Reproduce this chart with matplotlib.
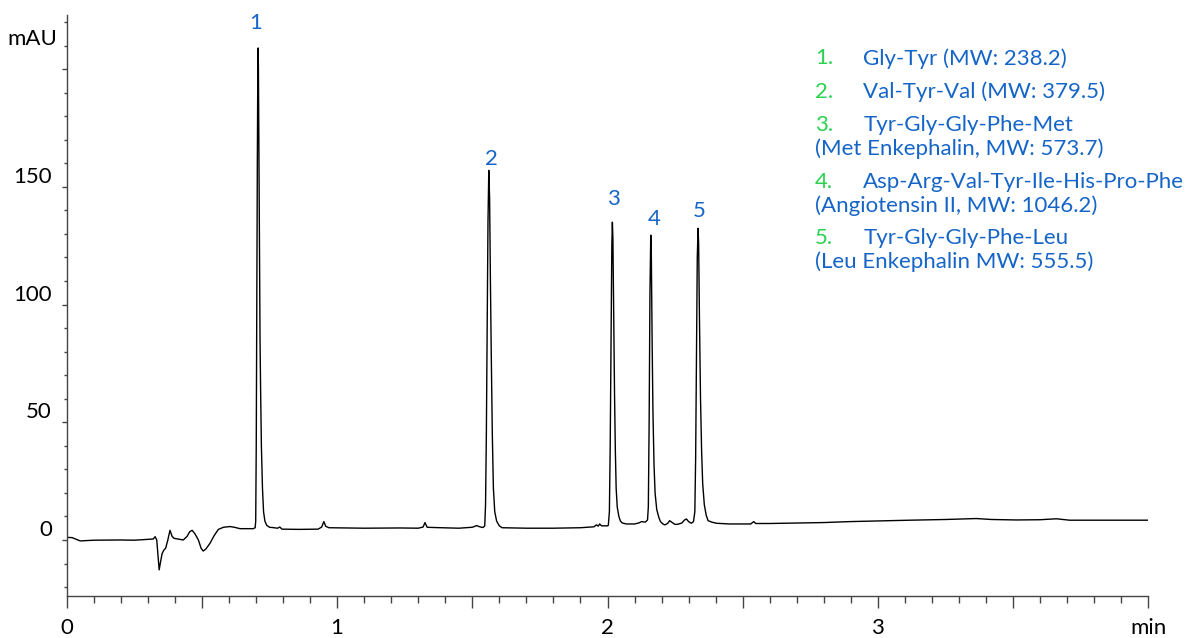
import numpy as np
import matplotlib.pyplot as plt
from matplotlib.ticker import MultipleLocator

plt.rcParams['font.family'] = ['Lato', 'DejaVu Sans']

# Chromatogram trace (time in min, absorbance in mAU)
t_min = [0.000, 0.020, 0.050, 0.100, 0.200, 0.250, 0.320, 0.327, 0.333, 0.338,
         0.342, 0.346, 0.353, 0.360, 0.366, 0.374, 0.382, 0.390, 0.397, 0.431,
         0.445, 0.455, 0.464, 0.475, 0.487, 0.497, 0.505, 0.515, 0.530, 0.545,
         0.561, 0.580, 0.604, 0.620, 0.641, 0.690,
         # peak 1
         0.697, 0.699, 0.701, 0.703, 0.705, 0.707, 0.708, 0.709, 0.711, 0.713,
         0.715, 0.717, 0.720, 0.724, 0.728, 0.733, 0.740, 0.750,
         0.760, 0.780, 0.788, 0.796, 0.860, 0.930, 0.943, 0.951, 0.958, 0.970,
         1.100, 1.232, 1.300, 1.318, 1.325, 1.333, 1.355, 1.450, 1.500, 1.516,
         1.530, 1.540,
         # peak 2
         1.546, 1.549, 1.552, 1.555, 1.558, 1.561, 1.564, 1.567, 1.570, 1.574,
         1.578, 1.583, 1.590, 1.600, 1.610,
         1.700, 1.800, 1.900, 1.950, 1.959, 1.966, 1.971, 1.978, 2.000, 2.003,
         # peak 3
         2.007, 2.010, 2.013, 2.016, 2.018, 2.020, 2.023, 2.026, 2.029, 2.032,
         2.036, 2.042, 2.048, 2.055, 2.070, 2.100, 2.115, 2.126, 2.140, 2.148,
         # peak 4
         2.151, 2.154, 2.157, 2.160, 2.162, 2.165, 2.168, 2.172, 2.176, 2.182,
         2.190, 2.196, 2.205, 2.212, 2.222, 2.230, 2.238, 2.250, 2.261, 2.275,
         2.285, 2.292, 2.300, 2.310, 2.318,
         # peak 5
         2.323, 2.326, 2.329, 2.332, 2.335, 2.337, 2.340, 2.344, 2.348, 2.352,
         2.358, 2.365, 2.372, 2.385, 2.403,
         2.450, 2.530, 2.536, 2.541, 2.548, 2.600, 2.711, 2.800, 2.896, 3.000,
         3.118, 3.250, 3.364, 3.420, 3.512, 3.600, 3.660, 3.709, 3.800, 3.900,
         3.999]
mau = [1.1, 1.0, -0.4, -0.1, 0.0, -0.1, 0.4, 1.4, 0.0, -7.0,
       -12.7, -10.0, -5.7, -4.2, -3.5, 0.0, 4.1, 1.5, 0.7, 0.0,
       1.5, 3.5, 4.1, 2.5, 0.0, -3.5, -4.7, -3.8, -1.4, 1.8,
       4.5, 5.4, 5.7, 5.4, 4.8, 4.8,
       5.2, 8.0, 40.0, 100.0, 160.0, 205.0, 209.0, 200.0, 160.0, 115.0,
       85.0, 65.0, 40.0, 22.0, 12.0, 8.0, 6.2, 5.4,
       5.3, 5.0, 5.5, 4.6, 4.5, 4.6, 5.5, 7.8, 5.8, 5.2,
       5.0, 5.1, 5.0, 5.5, 7.4, 5.4, 5.3, 5.0, 5.4, 6.1,
       5.5, 5.3,
       6.0, 15.0, 45.0, 90.0, 135.0, 157.0, 145.0, 110.0, 80.0, 45.0,
       22.0, 12.0, 8.0, 6.0, 5.2,
       5.0, 5.0, 5.2, 5.6, 6.4, 5.9, 6.8, 6.0, 6.0, 6.2,
       12.0, 40.0, 85.0, 125.0, 135.0, 128.0, 95.0, 62.0, 38.0, 22.0,
       14.0, 10.0, 8.0, 7.2, 6.8, 6.8, 7.2, 7.8, 7.6, 8.5,
       14.0, 50.0, 105.0, 129.5, 122.0, 85.0, 55.0, 32.0, 20.0, 13.0,
       9.5, 7.8, 6.8, 6.4, 7.0, 8.2, 7.5, 6.6, 6.7, 7.2,
       8.5, 8.9, 7.8, 7.1, 7.8,
       12.0, 35.0, 80.0, 120.0, 132.4, 126.0, 95.0, 60.0, 38.0, 24.0,
       15.0, 10.5, 8.2, 7.6, 7.1,
       6.8, 6.8, 7.4, 7.8, 7.0, 7.0, 7.2, 7.4, 7.8, 8.1,
       8.4, 8.7, 9.1, 8.7, 8.5, 8.6, 9.0, 8.4, 8.4, 8.4,
       8.4]

# peak labels
peak_ids = ['1', '2', '3', '4', '5']
peak_t = [0.697, 1.572, 2.021, 2.173, 2.338]
peak_label_y = [215.5, 157.5, 140.6, 132.0, 135.6]

legend_nums = ['1.', '2.', '3.', '4.', '5.']
legend_names = ['Gly-Tyr (MW: 238.2)',
                'Val-Tyr-Val (MW: 379.5)',
                'Tyr-Gly-Gly-Phe-Met\n(Met Enkephalin, MW: 573.7)',
                'Asp-Arg-Val-Tyr-Ile-His-Pro-Phe\n(Angiotensin II, MW: 1046.2)',
                'Tyr-Gly-Gly-Phe-Leu\n(Leu Enkephalin MW: 555.5)']

blue = '#1565c8'
green = '#2bd150'
axis_col = '#444444'
fs = 16

fig = plt.figure(figsize=(11.91, 6.38), dpi=100)
ax = fig.add_axes([66.7 / 1191, 42 / 638, (1148.3 - 66.7) / 1191, (596 - 15) / 638])

ax.plot(t_min, mau, color='black', lw=1.0)
ax.set_xlim(0, 4)
ax.set_ylim(-23.8, 223)

for s in ['top', 'right']:
    ax.spines[s].set_visible(False)
for s in ['left', 'bottom']:
    ax.spines[s].set_color(axis_col)
    ax.spines[s].set_linewidth(1.0)

ax.set_xticks(np.arange(0, 4.01, 0.5))
ax.set_xticklabels(['0', '', '1', '', '2', '', '3', '', 'min'])
ax.xaxis.set_minor_locator(MultipleLocator(0.1))
ax.tick_params(axis='x', which='major', length=8.6, width=1, color=axis_col,
               labelsize=fs, pad=7)
ax.tick_params(axis='x', which='minor', length=4.8, width=1, color=axis_col)

ax.set_yticks([0, 50, 100, 150, 200])
ax.set_yticklabels(['0', '50', '100', '150', ''])
ax.yaxis.set_minor_locator(MultipleLocator(10))
ax.tick_params(axis='y', which='major', length=3.6, width=1, color=axis_col,
               labelsize=fs, pad=7)
ax.tick_params(axis='y', which='minor', length=2.4, width=1, color=axis_col)
plt.setp(ax.get_yticklabels(), va='bottom')

fig.text(57 / 1191, 1 - 39 / 638, 'mAU', ha='right', va='center', fontsize=fs)

for lab, tx, ty in zip(peak_ids, peak_t, peak_label_y):
    ax.text(tx, ty, lab, color=blue, fontsize=fs, ha='center', va='bottom')

# legend block
row_y = [58.3, 91.7, 125, 181.7, 238]
for num, name, ry in zip(legend_nums, legend_names, row_y):
    fig.text(815 / 1191, 1 - ry / 638, num, color=green, fontsize=fs,
             ha='left', va='center')
    lines = name.split('\n')
    fig.text(863.3 / 1191, 1 - ry / 638, lines[0], color=blue, fontsize=fs,
             ha='left', va='center')
    if len(lines) > 1:
        fig.text(815 / 1191, 1 - (ry + 24) / 638, lines[1], color=blue,
                 fontsize=fs, ha='left', va='center')

fig.savefig('out.png', dpi=100)
